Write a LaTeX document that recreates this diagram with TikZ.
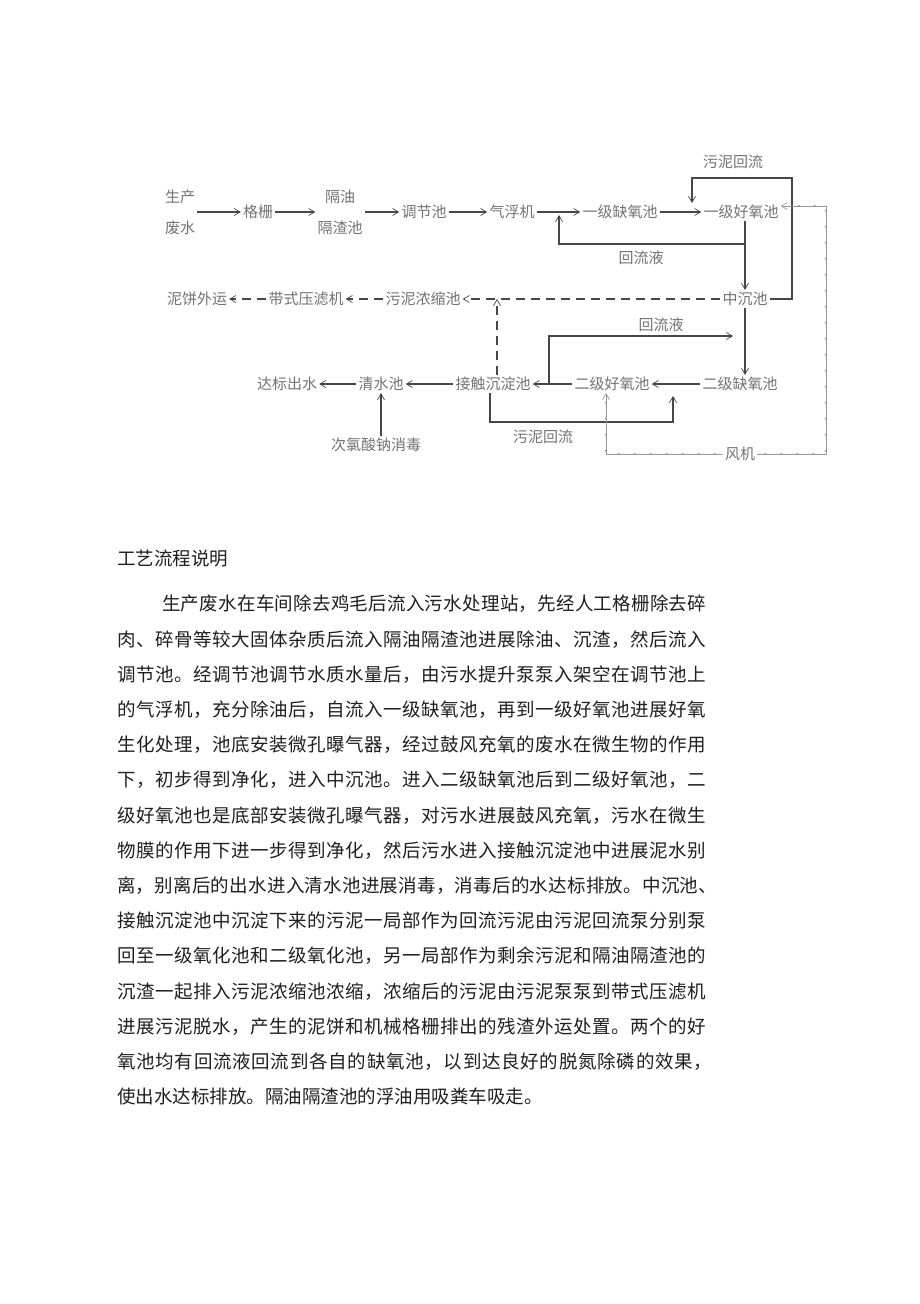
\documentclass[tikz,border=0pt]{standalone}
\usepackage{fontspec}
\setmainfont{Noto Sans CJK SC}
\usetikzlibrary{arrows.meta,decorations.markings}
\makeatletter
\newcommand\jl[2]{\hbox to #1{\let\jsep\relax\@tfor\jc:=#2\do{\jsep\jc\let\jsep\hfil}}}
\makeatother
\tikzset{
  box/.style={inner sep=2pt, font=\fontsize{15}{31}\selectfont, text=black!55},
  flow/.style={draw=black!72, line width=1.1pt, -{Straight Barb[length=6pt,width=7pt,line width=0.7pt]}},
  dflow/.style={flow, dash pattern=on 9pt off 6pt},
  air/.style={draw=black!40, line width=0.7pt, -{Straight Barb[length=6pt,width=7pt,line width=0.7pt]},
    decoration={markings, mark=between positions 8pt and -8pt step 16pt with {\fill[black!45] (0,0) circle (1.1pt);}},
    postaction={decorate}},
  para/.style={anchor=west, inner sep=0pt, font=\fontsize{18.5}{20}\selectfont, text=black!88}
}
\begin{document}
\begin{tikzpicture}[x=1pt,y=-1pt]
\fill[white] (0,0) rectangle (920,1304);
\useasboundingbox (0,0) rectangle (920,1304);
% ---- nodes, row 1
\node[box, align=center] (src) at (180,212) {生产\\废水};
\node[box] (grid) at (258,212) {格栅};
\node[box, align=center] (oil) at (340,212) {隔油\\隔渣池};
\node[box] (adj) at (424,212) {调节池};
\node[box] (flot) at (512,212) {气浮机};
\node[box] (an1) at (620,212) {一级缺氧池};
\node[box] (ox1) at (741,212) {一级好氧池};
% ---- row 2
\node[box] (mid) at (745,299) {中沉池};
\node[box] (thk) at (423,299) {污泥浓缩池};
\node[box] (prs) at (306,299) {带式压滤机};
\node[box] (cake) at (197,299) {泥饼外运};
% ---- row 3
\node[box] (an2) at (740,384) {二级缺氧池};
\node[box] (ox2) at (612,384) {二级好氧池};
\node[box] (ct) at (493,384) {接触沉淀池};
\node[box] (clr) at (381,384) {清水池};
\node[box] (out) at (287,384) {达标出水};
\node[box] (nacl) at (376,445) {次氯酸钠消毒};
\node[box] (fan) at (740,454) {风机};
% ---- labels
\node[box] (l1) at (733,162) {污泥回流};
\node[box] (l2) at (641,258) {回流液};
\node[box] (l3) at (661,325) {回流液};
\node[box] (l4) at (543,437) {污泥回流};
% ---- main flow
\draw[flow] (src) -- (grid);
\draw[flow] (grid) -- (oil);
\draw[flow] (oil) -- (adj);
\draw[flow] (adj) -- (flot);
\draw[flow] (flot) -- (an1);
\draw[flow] (an1) -- (ox1);
\draw[flow] (ox1.south -| mid.north) -- (mid.north);
\draw[flow] (mid.south) -- (an2.north -| mid.south);
\draw[flow] (an2) -- (ox2);
\draw[flow] (ox2) -- (ct);
\draw[flow] (ct) -- (clr);
\draw[flow] (clr) -- (out);
\draw[flow] (nacl.north -| clr.south) -- (clr.south);
% ---- sludge (dashed)
\draw[dflow] (mid) -- (thk);
\draw[dflow] (thk) -- (prs);
\draw[dflow] (prs) -- (cake);
\coordinate (dj) at (497,299);
\draw[dflow] (ct.north -| dj) -- (dj);
% ---- sludge return upper
\coordinate (ra) at (792,178);
\coordinate (rb) at (692,178);
\coordinate (rc) at (692,203);
\draw[flow] (mid.east) -| (ra) -- (rb) -- (rc);
% ---- recycle liquid upper
\coordinate (ua) at (744,244);
\coordinate (ub) at (559,244);
\coordinate (uc) at (559,215);
\draw[flow] (ua) -- (ub) -- (uc);
% ---- recycle liquid lower
\coordinate (la) at (549,384);
\coordinate (lb) at (549,336);
\coordinate (lc) at (733,336);
\draw[flow] (la) -- (lb) -- (lc);
% ---- sludge return lower
\coordinate (sa) at (490,422);
\coordinate (sb) at (673,422);
\coordinate (sc) at (673,396);
\draw[flow] (ct.south -| sa) -- (sa) -- (sb) -- (sc);
% ---- air
\coordinate (aa) at (826,454);
\coordinate (ab) at (826,206);
\coordinate (ac) at (606,454);
\draw[air] (fan.east) -- (aa) -- (ab) -- (ox1.east |- ab);
\draw[air] (fan.west) -- (ac) -- (ac |- ox2.south);
% ---- text
\node[para] (title) at (117,559) {工艺流程说明};
\node[para] (p1) at (162,604) {\jl{544pt}{生产废水在车间除去鸡毛后流入污水处理站，先经人工格栅除去碎}};
\node[para] (p2) at (117,639.2) {\jl{589pt}{肉、碎骨等较大固体杂质后流入隔油隔渣池进展除油、沉渣，然后流入}};
\node[para] (p3) at (117,674.4) {\jl{589pt}{调节池。经调节池调节水质水量后，由污水提升泵泵入架空在调节池上}};
\node[para] (p4) at (117,709.6) {\jl{589pt}{的气浮机，充分除油后，自流入一级缺氧池，再到一级好氧池进展好氧}};
\node[para] (p5) at (117,744.8) {\jl{589pt}{生化处理，池底安装微孔曝气器，经过鼓风充氧的废水在微生物的作用}};
\node[para] (p6) at (117,780) {\jl{589pt}{下，初步得到净化，进入中沉池。进入二级缺氧池后到二级好氧池，二}};
\node[para] (p7) at (117,815.2) {\jl{589pt}{级好氧池也是底部安装微孔曝气器，对污水进展鼓风充氧，污水在微生}};
\node[para] (p8) at (117,850.4) {\jl{589pt}{物膜的作用下进一步得到净化，然后污水进入接触沉淀池中进展泥水别}};
\node[para] (p9) at (117,885.6) {\jl{600pt}{离，别离后的出水进入清水池进展消毒，消毒后的水达标排放。中沉池、}};
\node[para] (p10) at (117,920.8) {\jl{589pt}{接触沉淀池中沉淀下来的污泥一局部作为回流污泥由污泥回流泵分别泵}};
\node[para] (p11) at (117,956) {\jl{589pt}{回至一级氧化池和二级氧化池，另一局部作为剩余污泥和隔油隔渣池的}};
\node[para] (p12) at (117,991.2) {\jl{589pt}{沉渣一起排入污泥浓缩池浓缩，浓缩后的污泥由污泥泵泵到带式压滤机}};
\node[para] (p13) at (117,1026.4) {\jl{589pt}{进展污泥脱水，产生的泥饼和机械格栅排出的残渣外运处置。两个的好}};
\node[para] (p14) at (117,1061.6) {\jl{595pt}{氧池均有回流液回流到各自的缺氧池，以到达良好的脱氮除磷的效果，}};
\node[para] (p15) at (117,1096.8) {使出水达标排放。隔油隔渣池的浮油用吸粪车吸走。};
\end{tikzpicture}
\end{document}
